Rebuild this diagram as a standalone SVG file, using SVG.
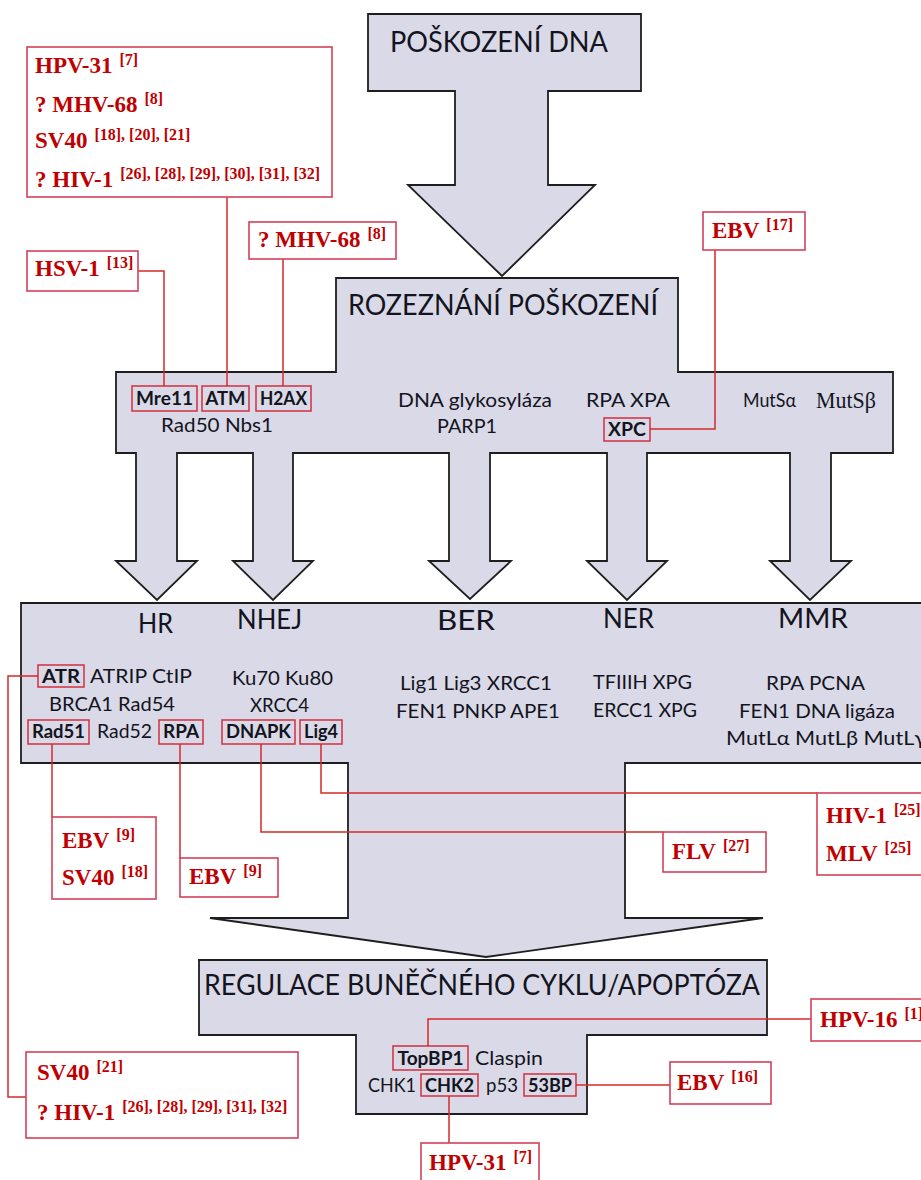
<svg xmlns="http://www.w3.org/2000/svg" width="921" height="1180" viewBox="0 0 921 1180">
<style>
.g{fill:#d9d9e7;stroke:#1e1e1e;stroke-width:1.8;stroke-linejoin:miter}
.vb{fill:#fff;stroke:#d4405a;stroke-width:1.6}
.pb{fill:none;stroke:#d23a4a;stroke-width:1.6}
.cn{fill:none;stroke:#d42a2a;stroke-width:1.5}
.v{font-family:"Liberation Serif",serif;font-weight:bold;font-size:23px;fill:#c00000}
.s{font-size:16px}
.t{font-family:Lato,"Open Sans",sans-serif;fill:#141420}
.h1{font-size:28px}
.h2{font-size:27px}
.m{font-size:19px}
.b{font-weight:bold;font-size:19px}
</style>
<rect width="921" height="1180" fill="#fff"/>

<g id="n-damage">
<polygon class="g" points="368,14 641,14 641,91 548,91 548,185 595,185 502,276 408,185 455,185 455,91 368,91"/>
<text class="t h1" x="390" y="52" textLength="218" lengthAdjust="spacingAndGlyphs">POŠKOZENÍ DNA</text>
</g>

<g id="n-recognition">
<polygon class="g" points="336,278 678,278 678,372 893,372 893,453 831,453 831,561 851,561 810,600 770,561 790,561 790,453 647,453 647,561 667,561 627,600 587,561 607,561 607,453 490,453 490,561 511,561 470,599 429,561 449,561 449,453 293,453 293,561 313,561 273,600 233,561 253,561 253,453 177,453 177,561 197,561 157,600 116,561 136,561 136,453 116,453 116,372 336,372"/>
<text class="t h1" x="348" y="315" textLength="310" lengthAdjust="spacingAndGlyphs">ROZEZNÁNÍ POŠKOZENÍ</text>
<rect class="pb" x="132" y="386" width="65" height="25"/>
<rect class="pb" x="202" y="386" width="47" height="25"/>
<rect class="pb" x="256" y="386" width="55" height="25"/>
<text class="t b" x="164.5" y="405" text-anchor="middle" textLength="57" lengthAdjust="spacingAndGlyphs">Mre11</text>
<text class="t b" x="225.5" y="405" text-anchor="middle" textLength="40" lengthAdjust="spacingAndGlyphs">ATM</text>
<text class="t b" x="283.5" y="405" text-anchor="middle" textLength="47" lengthAdjust="spacingAndGlyphs">H2AX</text>
<text class="t m" x="161" y="432" textLength="112" lengthAdjust="spacingAndGlyphs">Rad50  Nbs1</text>
<text class="t m" x="398" y="407" textLength="154" lengthAdjust="spacingAndGlyphs">DNA glykosyláza</text>
<text class="t m" x="437" y="433" textLength="60" lengthAdjust="spacingAndGlyphs">PARP1</text>
<text class="t m" x="586" y="407" textLength="84" lengthAdjust="spacingAndGlyphs">RPA  XPA</text>
<rect class="pb" x="604" y="418" width="46" height="23"/>
<text class="t b" x="627" y="436" text-anchor="middle" textLength="38" lengthAdjust="spacingAndGlyphs">XPC</text>
<text class="t m" x="743" y="407" textLength="53" lengthAdjust="spacingAndGlyphs">MutSα</text>
<text x="816" y="408" font-family="Liberation Serif,serif" font-size="23" fill="#141420" textLength="60" lengthAdjust="spacingAndGlyphs">MutSβ</text>
</g>

<g id="n-repair">
<polygon class="g" points="21,603 925,603 925,763 625,763 625,918 763,918 486,957 210,918 348,918 348,763 21,763"/>
<text class="t h2" x="138" y="633" textLength="35" lengthAdjust="spacingAndGlyphs">HR</text>
<text class="t h2" x="237" y="629" textLength="65" lengthAdjust="spacingAndGlyphs">NHEJ</text>
<text class="t h2" x="437" y="630" textLength="58" lengthAdjust="spacingAndGlyphs">BER</text>
<text class="t h2" x="603" y="628" textLength="51" lengthAdjust="spacingAndGlyphs">NER</text>
<text class="t h2" x="778" y="628" textLength="70" lengthAdjust="spacingAndGlyphs">MMR</text>
<rect class="pb" x="38" y="665" width="46" height="22"/>
<text class="t b" x="61" y="683" text-anchor="middle" textLength="38" lengthAdjust="spacingAndGlyphs">ATR</text>
<text class="t m" x="90" y="683" textLength="102" lengthAdjust="spacingAndGlyphs">ATRIP  CtIP</text>
<text class="t m" x="49" y="711" textLength="126" lengthAdjust="spacingAndGlyphs">BRCA1  Rad54</text>
<rect class="pb" x="28" y="720" width="61" height="24"/>
<text class="t b" x="58.5" y="738" text-anchor="middle" textLength="53" lengthAdjust="spacingAndGlyphs">Rad51</text>
<text class="t m" x="97" y="738" textLength="55" lengthAdjust="spacingAndGlyphs">Rad52</text>
<rect class="pb" x="159" y="720" width="44" height="24"/>
<text class="t b" x="181" y="738" text-anchor="middle" textLength="36" lengthAdjust="spacingAndGlyphs">RPA</text>
<text class="t m" x="232" y="685" textLength="101" lengthAdjust="spacingAndGlyphs">Ku70  Ku80</text>
<text class="t m" x="250" y="712" textLength="59" lengthAdjust="spacingAndGlyphs">XRCC4</text>
<rect class="pb" x="222" y="720" width="73" height="24"/>
<text class="t b" x="258.5" y="738" text-anchor="middle" textLength="65" lengthAdjust="spacingAndGlyphs">DNAPK</text>
<rect class="pb" x="300" y="720" width="42" height="24"/>
<text class="t b" x="321" y="738" text-anchor="middle" textLength="34" lengthAdjust="spacingAndGlyphs">Lig4</text>
<text class="t m" x="400" y="690" textLength="152" lengthAdjust="spacingAndGlyphs">Lig1  Lig3  XRCC1</text>
<text class="t m" x="396" y="718" textLength="164" lengthAdjust="spacingAndGlyphs">FEN1  PNKP  APE1</text>
<text class="t m" x="593" y="689" textLength="99" lengthAdjust="spacingAndGlyphs">TFIIIH  XPG</text>
<text class="t m" x="593" y="717" textLength="104" lengthAdjust="spacingAndGlyphs">ERCC1  XPG</text>
<text class="t m" x="766" y="690" textLength="99" lengthAdjust="spacingAndGlyphs">RPA  PCNA</text>
<text class="t m" x="739" y="718" textLength="156" lengthAdjust="spacingAndGlyphs">FEN1  DNA ligáza</text>
<text class="t m" x="726" y="745" textLength="200" lengthAdjust="spacingAndGlyphs">MutLα  MutLβ  MutLγ</text>
</g>

<g id="n-regulation">
<polygon class="g" points="199,960 767,960 767,1035 587,1035 587,1114 356,1114 356,1035 199,1035"/>
<text class="t h1" x="204" y="995" textLength="556" lengthAdjust="spacingAndGlyphs">REGULACE BUNĚČNÉHO CYKLU/APOPTÓZA</text>
<rect class="pb" x="393" y="1046" width="75" height="24"/>
<text class="t b" x="430.5" y="1065" text-anchor="middle" textLength="66" lengthAdjust="spacingAndGlyphs">TopBP1</text>
<text class="t m" x="475" y="1065" textLength="68" lengthAdjust="spacingAndGlyphs">Claspin</text>
<text class="t m" x="368" y="1092" textLength="48" lengthAdjust="spacingAndGlyphs">CHK1</text>
<rect class="pb" x="421" y="1074" width="57" height="22"/>
<text class="t b" x="449.5" y="1092" text-anchor="middle" textLength="49" lengthAdjust="spacingAndGlyphs">CHK2</text>
<text class="t m" x="486" y="1092" textLength="32" lengthAdjust="spacingAndGlyphs">p53</text>
<rect class="pb" x="524" y="1074" width="52" height="22"/>
<text class="t b" x="550" y="1092" text-anchor="middle" textLength="44" lengthAdjust="spacingAndGlyphs">53BP</text>
</g>

<g id="connectors">
<path class="cn" d="M138,271 H164 V386"/>
<path class="cn" d="M227,197 V386"/>
<path class="cn" d="M283,259 V386"/>
<path class="cn" d="M715,250 V429 H650"/>
<path class="cn" d="M38,676 H8 V1097 H26"/>
<path class="cn" d="M52,744 V817"/>
<path class="cn" d="M180,744 V858"/>
<path class="cn" d="M261,744 V832 H663"/>
<path class="cn" d="M321,744 V793 H817"/>
<path class="cn" d="M428,1046 V1019 H811"/>
<path class="cn" d="M576,1085 H670"/>
<path class="cn" d="M449,1096 V1143"/>
</g>

<g id="v-topleft">
<rect class="vb" x="27" y="47" width="305" height="150"/>
<text class="v" x="35" y="73">HPV-31<tspan class="s" dx="7" dy="-8">[7]</tspan></text>
<text class="v" x="35" y="112">? MHV-68<tspan class="s" dx="7" dy="-8">[8]</tspan></text>
<text class="v" x="35" y="148">SV40<tspan class="s" dx="7" dy="-8">[18], [20], [21]</tspan></text>
<text class="v" x="35" y="187">? HIV-1<tspan class="s" dx="7" dy="-8">[26], [28], [29], [30], [31], [32]</tspan></text>
</g>
<g id="v-hsv1">
<rect class="vb" x="27" y="251" width="111" height="40"/>
<text class="v" x="35" y="276">HSV-1<tspan class="s" dx="7" dy="-8">[13]</tspan></text>
</g>
<g id="v-mhv68">
<rect class="vb" x="249" y="222" width="147" height="37"/>
<text class="v" x="258" y="247">? MHV-68<tspan class="s" dx="7" dy="-8">[8]</tspan></text>
</g>
<g id="v-ebv17">
<rect class="vb" x="703" y="212" width="102" height="38"/>
<text class="v" x="712" y="238">EBV<tspan class="s" dx="7" dy="-8">[17]</tspan></text>
</g>
<g id="v-ebv9-sv40">
<rect class="vb" x="52" y="817" width="104" height="82"/>
<text class="v" x="62" y="848">EBV<tspan class="s" dx="7" dy="-8">[9]</tspan></text>
<text class="v" x="62" y="885">SV40<tspan class="s" dx="7" dy="-8">[18]</tspan></text>
</g>
<g id="v-ebv9">
<rect class="vb" x="180" y="858" width="98" height="39"/>
<text class="v" x="189" y="884">EBV<tspan class="s" dx="7" dy="-8">[9]</tspan></text>
</g>
<g id="v-flv">
<rect class="vb" x="663" y="832" width="103" height="40"/>
<text class="v" x="672" y="859">FLV<tspan class="s" dx="7" dy="-8">[27]</tspan></text>
</g>
<g id="v-hiv-mlv">
<rect class="vb" x="817" y="793" width="120" height="82"/>
<text class="v" x="826" y="823">HIV-1<tspan class="s" dx="7" dy="-8">[25]</tspan></text>
<text class="v" x="826" y="861">MLV<tspan class="s" dx="7" dy="-8">[25]</tspan></text>
</g>
<g id="v-hpv16">
<rect class="vb" x="811" y="999" width="120" height="42"/>
<text class="v" x="820" y="1027">HPV-16<tspan class="s" dx="7" dy="-8">[1]</tspan></text>
</g>
<g id="v-ebv16">
<rect class="vb" x="670" y="1062" width="101" height="42"/>
<text class="v" x="677" y="1090">EBV<tspan class="s" dx="7" dy="-8">[16]</tspan></text>
</g>
<g id="v-hpv31">
<rect class="vb" x="421" y="1143" width="118" height="45"/>
<text class="v" x="429" y="1170">HPV-31<tspan class="s" dx="7" dy="-8">[7]</tspan></text>
</g>
<g id="v-sv40-hiv1">
<rect class="vb" x="26" y="1052" width="272" height="86"/>
<text class="v" x="37" y="1080">SV40<tspan class="s" dx="7" dy="-8">[21]</tspan></text>
<text class="v" x="37" y="1120">? HIV-1<tspan class="s" dx="7" dy="-8">[26], [28], [29], [31], [32]</tspan></text>
</g>
</svg>
